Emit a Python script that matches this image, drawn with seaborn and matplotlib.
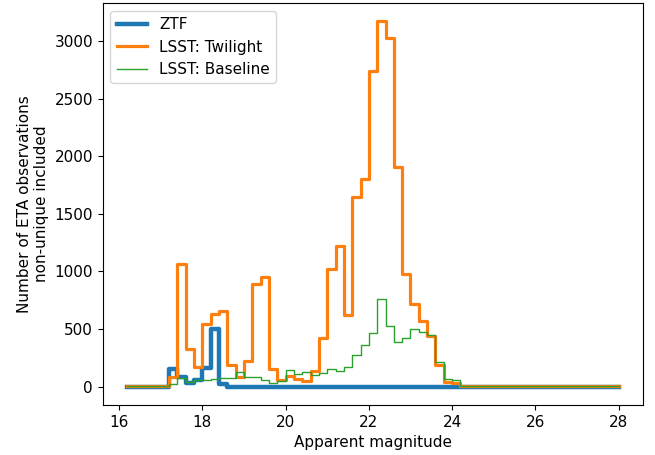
import numpy as np
import pandas as pd
import matplotlib
matplotlib.use("Agg")
import matplotlib.pyplot as plt
import seaborn as sns

# histogram counts per 0.2 mag bin
bin_start = 16.2
bin_width = 0.2

ztf = [0, 0, 0, 0, 0, 155, 85, 30, 55, 165,
       500, 25, 0, 0, 0, 0, 0, 0, 0, 0,
       0, 0, 0, 0, 0, 0, 0, 0, 0, 0,
       0, 0, 0, 0, 0, 0, 0, 0, 0, 0,
       0, 0, 0, 0, 0, 0, 0, 0, 0, 0,
       0, 0, 0, 0, 0, 0, 0, 0, 0]

twilight = [8, 8, 8, 8, 8, 82, 1062, 325, 168, 543,
            630, 655, 185, 82, 225, 890, 955, 150, 55, 90,
            65, 50, 140, 425, 1020, 1220, 625, 1650, 1800, 2740,
            3170, 3025, 1910, 975, 715, 570, 440, 185, 40, 30,
            8, 8, 8, 8, 8, 8, 8, 8, 8, 8,
            8, 8, 8, 8, 8, 8, 8, 8, 8]

baseline = [3, 3, 3, 3, 3, 20, 75, 40, 60, 55,
            68, 75, 75, 127, 84, 84, 62, 35, 50, 148,
            113, 127, 98, 115, 150, 140, 170, 275, 362, 470,
            760, 530, 385, 420, 500, 478, 445, 212, 70, 55,
            2, 2, 2, 2, 2, 2, 2, 2, 2, 2,
            2, 2, 2, 2, 2, 2, 2, 2, 2]

series_names = ["ZTF", "LSST: Twilight", "LSST: Baseline"]

n_bins = len(ztf)
edges = bin_start + bin_width * np.arange(n_bins + 1)
centers = edges[:-1] + bin_width / 2

plt.rcParams['font.size'] = 11

fig = plt.figure(figsize=(6.55, 4.55), dpi=100)
ax = fig.add_axes([0.157, 0.11, 0.825, 0.883])

widths = [3.2, 2.3, 1.0]
colors = ["C0", "C1", "C2"]
for name, counts, lw, col in zip(series_names, [ztf, twilight, baseline], widths, colors):
    df = pd.DataFrame({"mag": centers, "n": counts})
    sns.histplot(data=df, x="mag", weights="n", bins=list(edges), element="step",
                 fill=False, color=col, linewidth=lw, label=name, ax=ax)

# default matplotlib-like 5% margins (seaborn makes the edges sticky)
ymax = max(max(ztf), max(twilight), max(baseline))
xr = edges[-1] - edges[0]
ax.set_xlim(edges[0] - 0.05 * xr, edges[-1] + 0.05 * xr)
ax.set_ylim(-0.05 * ymax, ymax * 1.05)

ax.set_xlabel("Apparent magnitude")
ax.set_ylabel("Number of ETA observations\nnon-unique included")
ax.legend(loc="upper left")

fig.savefig("out.png", dpi=100)
